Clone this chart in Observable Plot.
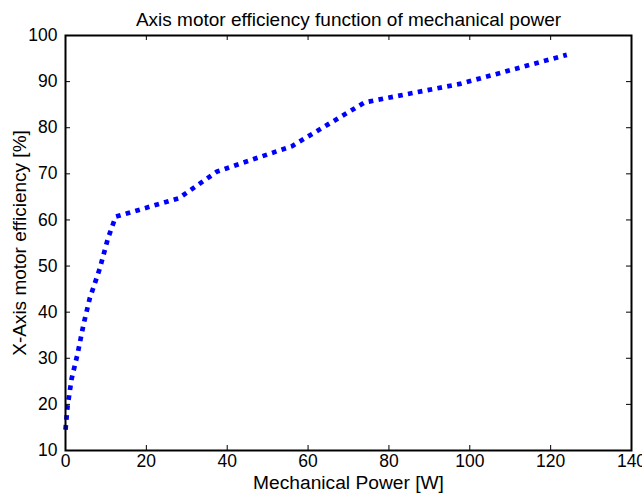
<!DOCTYPE html>
<html>
<head>
<meta charset="utf-8">
<script src="https://cdn.jsdelivr.net/npm/d3@7"></script>
<script src="https://cdn.jsdelivr.net/npm/@observablehq/plot@0.6"></script>
<style>
  html, body { margin: 0; padding: 0; background: #fff; }
  svg { display: block; }
</style>
</head>
<body>
<div id="chart"></div>
<script>
const title = "Axis motor efficiency function of mechanical power";
const xLabel = "Mechanical Power [W]";
const yLabel = "X-Axis motor efficiency [%]";

const power = [0, 0.5, 1.5, 3, 4.5, 6, 8.5, 10.5, 12.4, 28, 37.5, 56, 74, 97.5, 124];
const efficiency = [14.5, 19.5, 25.5, 31, 37.5, 43, 49.5, 56, 60.7, 64.7, 70.5, 76, 85.5, 89.5, 95.8];

const xTicks = [0, 20, 40, 60, 80, 100, 120, 140];
const yTicks = [10, 20, 30, 40, 50, 60, 70, 80, 90, 100];

const data = power.map((p, i) => ({power: p, eff: efficiency[i]}));

const W = 642, H = 497;
const mL = 65, mR = 11, mT = 35, mB = 47;
const frameW = W - mL - mR, frameH = H - mT - mB;
const tick = 5;
const font = "Liberation Sans, Arial, Helvetica, sans-serif";

const chart = Plot.plot({
  width: W,
  height: H,
  marginLeft: mL,
  marginRight: mR,
  marginTop: mT,
  marginBottom: mB,
  style: {fontFamily: font, fontSize: "17px", color: "#000", background: "#fff", overflow: "visible"},
  x: {domain: [0, 140], ticks: xTicks},
  y: {domain: [10, 100], ticks: yTicks},
  marks: [
    Plot.line(data, {x: "power", y: "eff", stroke: "#0000ff", strokeWidth: 4.7, strokeDasharray: "4.7,5.3", strokeLinecap: "butt"}),
    // inward ticks on all four sides
    Plot.ruleX(xTicks, {x: d => d, insetTop: frameH - tick, stroke: "#000", strokeWidth: 1}),
    Plot.ruleX(xTicks, {x: d => d, insetBottom: frameH - tick, stroke: "#000", strokeWidth: 1}),
    Plot.ruleY(yTicks, {y: d => d, insetRight: frameW - tick, stroke: "#000", strokeWidth: 1}),
    Plot.ruleY(yTicks, {y: d => d, insetLeft: frameW - tick, stroke: "#000", strokeWidth: 1}),
    Plot.frame({stroke: "#000", strokeWidth: 2}),
    Plot.axisX(xTicks, {tickSize: 0, tickPadding: 4, fontSize: 17.5, label: null, tickFormat: d => String(d)}),
    Plot.axisY(yTicks, {tickSize: 0, tickPadding: 8, fontSize: 17.5, label: null, tickFormat: d => String(d)}),
    Plot.text([xLabel], {text: d => d, frameAnchor: "bottom", lineAnchor: "middle", textAnchor: "middle", dy: 32, fontSize: 19.2, fill: "#000"}),
    Plot.text([yLabel], {text: d => d, frameAnchor: "left", lineAnchor: "middle", textAnchor: "middle", rotate: -90, dx: -46, fontSize: 19, fill: "#000"}),
    Plot.text([title], {text: d => d, frameAnchor: "top", lineAnchor: "bottom", textAnchor: "middle", dy: -10, fontSize: 19, fill: "#000"})
  ]
});
document.getElementById("chart").appendChild(chart);
</script>
</body>
</html>
